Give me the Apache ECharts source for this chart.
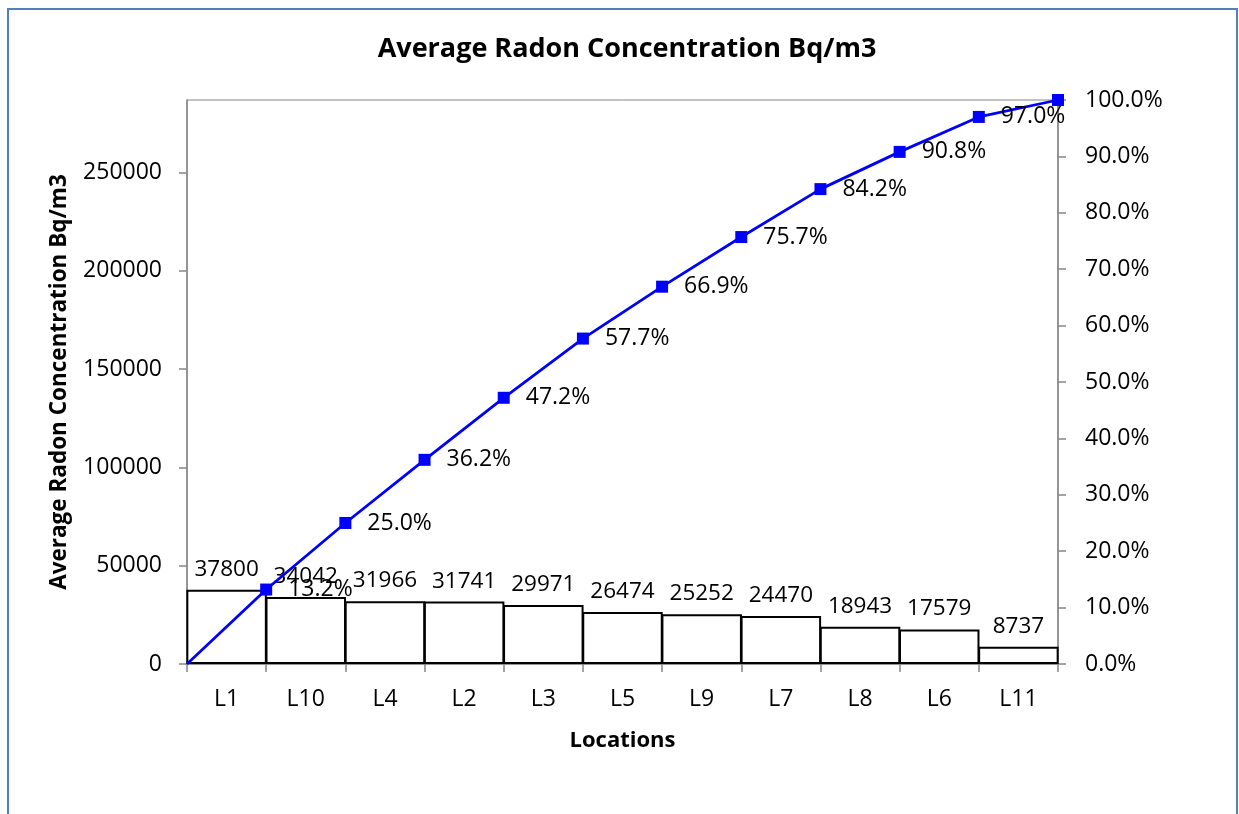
<!DOCTYPE html>
<html>
<head>
<meta charset="utf-8">
<script src="https://cdn.jsdelivr.net/npm/echarts@6/dist/echarts.min.js"></script>
<style>
html,body{margin:0;padding:0;background:#fff;}
#chart{width:1239px;height:814px;}
</style>
</head>
<body>
<div id="chart"></div>
<script>
const categories = ['L1','L10','L4','L2','L3','L5','L9','L7','L8','L6','L11'];
const concentrations = [37800,34042,31966,31741,29971,26474,25252,24470,18943,17579,8737];
const cumulativePercent = [0,13.2,25.0,36.2,47.2,57.7,66.9,75.7,84.2,90.8,97.0,100.0];
const boundaryLabels = ['0','1','2','3','4','5','6','7','8','9','10','11'];
const leftMax = 286975;
const leftInterval = 50000;

const FONT = '"Open Sans", sans-serif';
const AXIS_COLOR = '#868686';

const chart = echarts.init(document.getElementById('chart'), null, {renderer:'canvas'});
chart.setOption({
  animation: false,
  backgroundColor: '#ffffff',
  textStyle: {fontFamily: FONT},
  title: {
    text: 'Average Radon Concentration Bq/m3',
    left: 622, top: 31, textAlign: 'center',
    textStyle: {fontFamily: FONT, fontWeight: 'bold', fontSize: 27, color: '#000'}
  },
  graphic: [{
    type: 'rect', silent: true,
    shape: {x: 8, y: 9, width: 1229, height: 830},
    style: {fill: 'none', stroke: '#4F81BD', lineWidth: 2}
  }],
  grid: {
    left: 187, right: 181, top: 100, bottom: 150,
    show: true, borderColor: AXIS_COLOR, borderWidth: 1, backgroundColor: 'transparent'
  },
  xAxis: [{
    type: 'category', data: categories, boundaryGap: true,
    name: 'Locations', nameLocation: 'middle', nameGap: 66,
    nameTextStyle: {fontFamily: FONT, fontWeight: 'bold', fontSize: 22, color: '#000'},
    axisLine: {lineStyle: {color: AXIS_COLOR, width: 1.5}},
    axisTick: {show: true, alignWithLabel: false, length: 8, lineStyle: {color: AXIS_COLOR, width: 1.5}},
    axisLabel: {fontFamily: FONT, fontSize: 23, color: '#000', margin: 24}
  }, {
    type: 'category', data: boundaryLabels, boundaryGap: false, show: false
  }],
  yAxis: [{
    type: 'value', min: 0, max: leftMax, interval: leftInterval,
    name: 'Average Radon Concentration Bq/m3', nameLocation: 'middle', nameGap: 116,
    nameTextStyle: {fontFamily: FONT, fontWeight: 'bold', fontSize: 22.5, color: '#000'},
    axisLine: {show: true, lineStyle: {color: AXIS_COLOR, width: 1.5}},
    axisTick: {show: true, length: 8, lineStyle: {color: AXIS_COLOR, width: 1.5}},
    axisLabel: {fontFamily: FONT, fontSize: 23, color: '#000', margin: 25, showMaxLabel: false, formatter: v => String(v)},
    splitLine: {show: false}
  }, {
    type: 'value', min: 0, max: 100, interval: 10, position: 'right',
    axisLine: {show: true, lineStyle: {color: AXIS_COLOR, width: 1.5}},
    axisTick: {show: true, length: 8, lineStyle: {color: AXIS_COLOR, width: 1.5}},
    axisLabel: {fontFamily: FONT, fontSize: 23, color: '#000', margin: 27, formatter: v => v.toFixed(1) + '%'},
    splitLine: {show: false}
  }],
  series: [{
    type: 'bar', xAxisIndex: 0, yAxisIndex: 0, data: concentrations,
    barCategoryGap: '0%', barWidth: 80.5,
    itemStyle: {color: '#ffffff', borderColor: '#000000', borderWidth: 2},
    label: {show: true, position: 'top', distance: 9, fontFamily: FONT, fontSize: 22.5, color: '#000'},
    z: 2
  }, {
    type: 'line', xAxisIndex: 1, yAxisIndex: 1,
    data: cumulativePercent.map((v, i) => i === 0 ? {value: v, symbol: 'none'} : v),
    symbol: 'rect', symbolSize: 12,
    showSymbol: true,
    lineStyle: {color: '#0000FF', width: 2.8},
    itemStyle: {color: '#0000FF'},
    label: {
      show: true, position: 'right', distance: 16, fontFamily: FONT, fontSize: 23, color: '#000',
      formatter: p => (p.dataIndex === 0 || p.dataIndex === cumulativePercent.length - 1) ? '' : Number(p.value).toFixed(1) + '%'
    },
    z: 5
  }]
});
</script>
</body>
</html>
